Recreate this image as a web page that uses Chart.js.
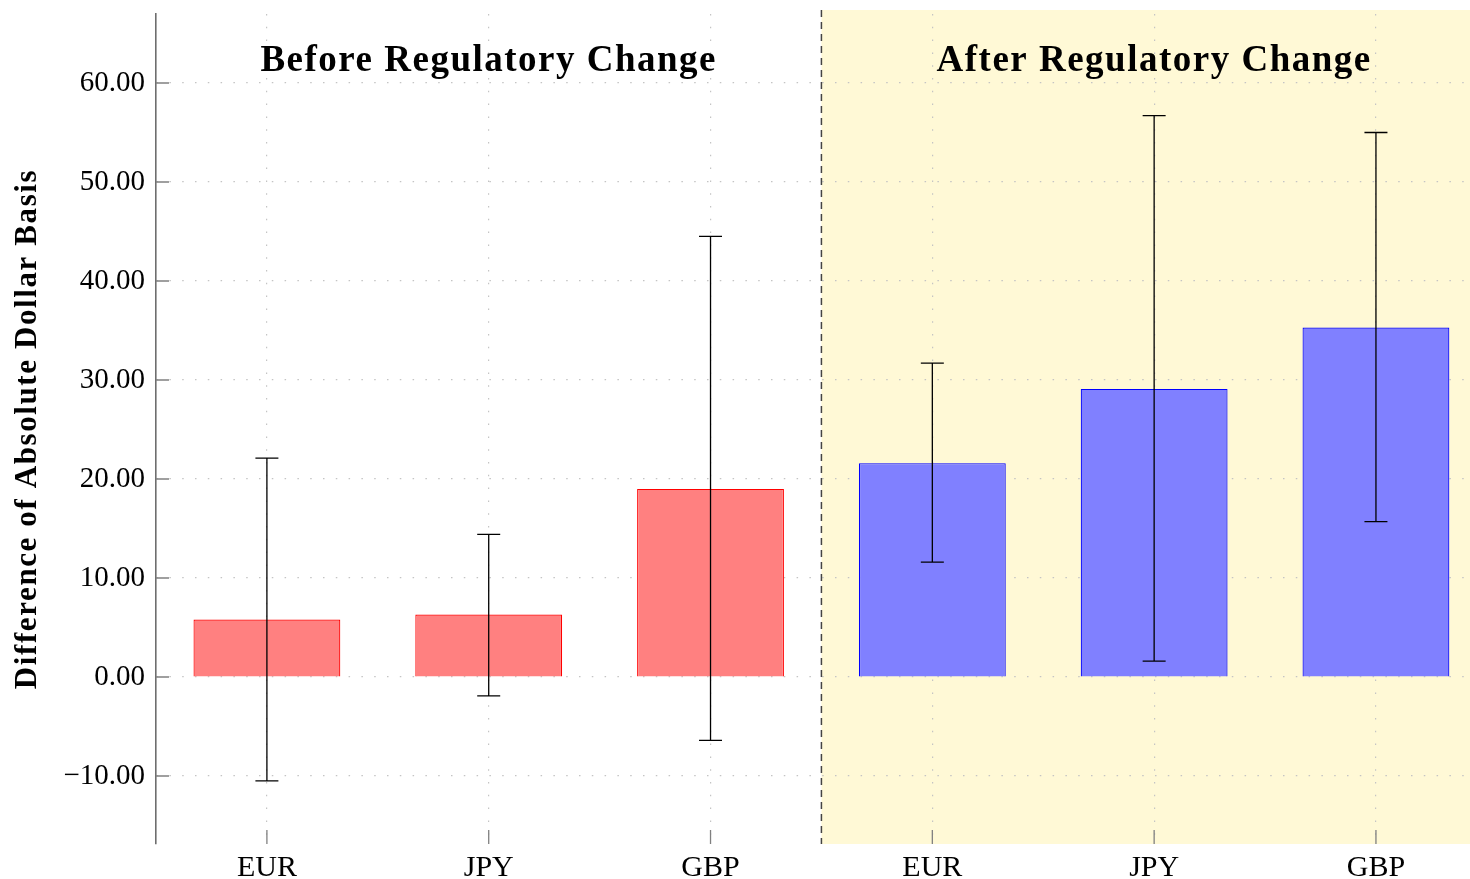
<!DOCTYPE html>
<html>
<head>
<meta charset="utf-8">
<script src="https://cdn.jsdelivr.net/npm/chart.js@4"></script>
<style>
  html, body { margin:0; padding:0; background:#fff; overflow:hidden; }
  #wrap { width:1470px; height:879px; position:relative; }
</style>
</head>
<body>
<div id="wrap"><canvas id="basisChart"></canvas></div>
<script>
// ---- data ----
const currencies = ['EUR', 'JPY', 'GBP'];
const beforeMeans = [5.8, 6.3, 19.0];
const beforeLow   = [-10.5, -1.9, -6.4];
const beforeHigh  = [22.1, 14.4, 44.5];
const afterMeans  = [21.6, 29.1, 35.3];
const afterLow    = [11.6, 1.6, 15.7];
const afterHigh   = [31.7, 56.7, 55.0];
const periodTitles = ['Before Regulatory Change', 'After Regulatory Change'];
const yTitle = 'Difference of Absolute Dollar Basis';
const yTicks = [-10, 0, 10, 20, 30, 40, 50, 60];
const yRange = [-16.87, 66.97];
const xRange = [-0.5, 5.415];
const splitAt = 2.5;

const FONT = "'Liberation Serif', serif";
const xLabels = currencies.concat(currencies);
const xPos = xLabels.map((_, i) => i);

const beforePts = beforeMeans.map((v, i) => ({ x: i, y: v }));
const afterPts  = afterMeans.map((v, i) => ({ x: i + 3, y: v }));
const lows  = beforeLow.concat(afterLow);
const highs = beforeHigh.concat(afterHigh);

const fmt = v => (v < 0 ? '\u2212' + Math.abs(v).toFixed(2) : v.toFixed(2));

const decor = {
  id: 'decor',
  beforeDraw(chart){
    const { ctx, chartArea:a, scales:{ x } } = chart;
    ctx.save();
    ctx.fillStyle = '#fff';
    ctx.fillRect(0, 0, chart.width, chart.height);
    const xs = x.getPixelForValue(splitAt);
    ctx.fillStyle = '#fff9d6';
    ctx.fillRect(xs, a.top - 4, a.right - xs + 4, a.bottom - a.top + 4);
    ctx.restore();
  },
  afterDatasetsDraw(chart){
    const { ctx, chartArea:a, scales:{ x, y } } = chart;
    ctx.save();

    // error bars
    ctx.strokeStyle = '#000';
    ctx.lineWidth = 1.3;
    xPos.forEach((p, i) => {
      const px = x.getPixelForValue(p);
      const lo = y.getPixelForValue(lows[i]);
      const hi = y.getPixelForValue(highs[i]);
      ctx.beginPath();
      ctx.moveTo(px, lo); ctx.lineTo(px, hi);
      ctx.moveTo(px - 11.5, lo); ctx.lineTo(px + 11.5, lo);
      ctx.moveTo(px - 11.5, hi); ctx.lineTo(px + 11.5, hi);
      ctx.stroke();
    });

    // inward ticks
    ctx.strokeStyle = '#808080';
    ctx.lineWidth = 1.3;
    ctx.beginPath();
    yTicks.forEach(v => {
      const py = y.getPixelForValue(v);
      ctx.moveTo(a.left, py); ctx.lineTo(a.left + 13, py);
    });
    xPos.forEach(p => {
      const px = x.getPixelForValue(p);
      ctx.moveTo(px, a.bottom); ctx.lineTo(px, a.bottom - 14);
    });
    ctx.stroke();

    // separator
    const xs = x.getPixelForValue(splitAt);
    ctx.strokeStyle = '#444';
    ctx.lineWidth = 1.5;
    ctx.setLineDash([7, 5]);
    ctx.beginPath();
    ctx.moveTo(xs, a.top - 4); ctx.lineTo(xs, a.bottom);
    ctx.stroke();
    ctx.setLineDash([]);

    // period titles
    ctx.fillStyle = '#000';
    ctx.font = "bold 37px " + FONT;
    ctx.letterSpacing = '1.5px';
    ctx.textAlign = 'center';
    ctx.textBaseline = 'middle';
    ctx.fillText(periodTitles[0], x.getPixelForValue(1), y.getPixelForValue(62.2));
    ctx.fillText(periodTitles[1], x.getPixelForValue(4), y.getPixelForValue(62.2));

    // y axis title
    ctx.font = "bold 31px " + FONT;
    ctx.letterSpacing = '1.6px';
    ctx.translate(28, (a.top + a.bottom) / 2);
    ctx.rotate(-Math.PI / 2);
    ctx.fillText(yTitle, 0, 0);
    ctx.restore();
  }
};

const dotted = [1.5, 11.3];

new Chart(document.getElementById('basisChart'), {
  type: 'bar',
  data: {
    datasets: [
      { data: beforePts, backgroundColor: '#ff8080', borderColor: '#ff0000', borderWidth: 1.2, grouped: false },
      { data: afterPts,  backgroundColor: '#8080ff', borderColor: '#0000ff', borderWidth: 1.2, grouped: false }
    ]
  },
  options: {
    responsive: true,
    maintainAspectRatio: false,
    animation: false,
    layout: { padding: { top: 14, right: 2, left: 0, bottom: 0 } },
    datasets: { bar: { categoryPercentage: 1, barPercentage: 0.662 } },
    plugins: { legend: { display: false }, tooltip: { enabled: false } },
    scales: {
      x: {
        type: 'linear',
        min: xRange[0], max: xRange[1],
        offset: false,
        afterBuildTicks: s => { s.ticks = xPos.map(v => ({ value: v })); },
        afterFit: s => { s.height = 35; s.paddingLeft = 0; s.paddingRight = 0; },
        ticks: {
          padding: 6,
          color: '#000',
          font: { family: FONT, size: 30 },
          callback: v => xLabels[v]
        },
        grid: { offset: false, drawTicks: false, color: '#c4c4c4', lineWidth: 1.2 },
        border: { display: false, dash: dotted }
      },
      y: {
        min: yRange[0], max: yRange[1],
        afterBuildTicks: s => { s.ticks = yTicks.map(v => ({ value: v })); },
        afterFit: s => { s.width = 156; s.paddingTop = 0; s.paddingBottom = 0; },
        ticks: {
          padding: 11,
          color: '#000',
          font: { family: FONT, size: 29 },
          callback: v => fmt(v)
        },
        grid: { drawTicks: false, color: '#c4c4c4', lineWidth: 1.2 },
        border: { display: true, color: '#6e6e6e', width: 1.6, dash: dotted }
      }
    }
  },
  plugins: [decor]
});
</script>
</body>
</html>
